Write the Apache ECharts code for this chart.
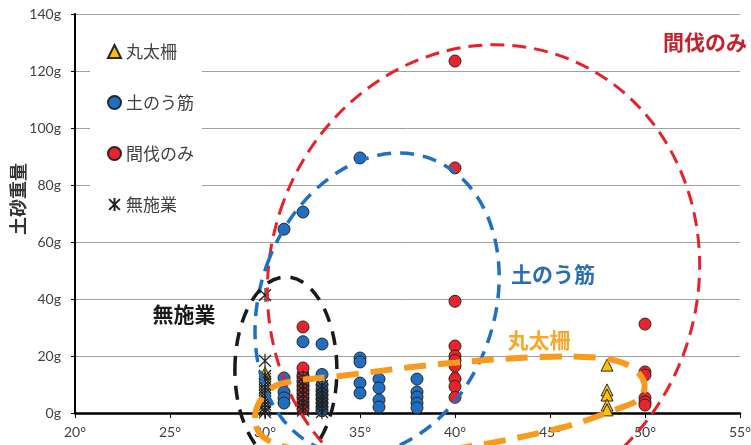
<!DOCTYPE html>
<html>
<head>
<meta charset="utf-8">
<script src="https://cdn.jsdelivr.net/npm/echarts@6/dist/echarts.min.js"></script>
<style>
html, body { margin: 0; padding: 0; background: #fff; }
#main { width: 751px; height: 445px; }
</style>
</head>
<body>
<div id="main"></div>
<script>
// 傾斜角(°), 土砂重量(g)
const maruta = [[30, 14], [40, 14], [48, 16.8], [48, 8.1], [48, 6.3], [48, 2.8], [48, 1.1]];
const donou = [[31, 64.5], [32, 70.5], [35, 89.5], [32, 25], [33, 24.2],
  [31, 12.3], [31, 7.4], [31, 5.3], [31, 3.5], [32, 13.3],
  [33, 13.5], [33, 9.8], [33, 8], [33, 6.5], [33, 5], [33, 3.5], [33, 2], [33, 0.8],
  [35, 19.3], [35, 17.9], [35, 10.5], [35, 7],
  [36, 11.9], [36, 8.8], [36, 4.6], [36, 2.1],
  [38, 11.9], [38, 7.4], [38, 5.6], [38, 3.5], [38, 1.8]];
const kanbatsu = [[40, 123.5], [40, 86], [40, 39.2], [40, 23.5], [40, 20], [40, 18.5], [40, 16.5],
  [40, 12], [40, 9.3], [40, 5.5],
  [50, 31.2], [50, 14.4], [50, 13.3], [50, 5.3], [50, 3.9], [50, 2.8],
  [32, 30.2], [32, 15.8], [32, 12.3], [32, 11], [32, 9.6], [32, 8.2], [32, 6.8], [32, 5.4],
  [32, 4], [32, 2.6], [32, 1.3]];
const museyou = [[30, 41.4], [30, 18.3], [30, 13], [30, 12], [30, 11], [30, 10], [30, 9], [30, 8],
  [30, 7], [30, 6], [30, 5], [30, 4], [30, 3], [30, 2], [30, 1], [30, 0.3],
  [32, 12.5], [32, 11], [32, 9.5], [32, 8], [32, 6.5], [32, 5], [32, 3.5], [32, 2], [32, 0.8],
  [33, 9.5], [33, 8.2], [33, 6.8], [33, 5.5], [33, 4.2], [33, 2.8], [33, 1.5], [33, 0.3]];

const names = ['丸太柵', '土のう筋', '間伐のみ', '無施業'];
const xRange = [20, 55, 5];
const yRange = [0, 140, 20];

// 囲み線 (中心はデータ座標、半径はpx)
const ellipses = [
  { c: [41.5, 47.4], rx: 214, ry: 235, rot: 18, color: '#E8202A', w: 3, dash: [14, 8] },
  { c: [35.9, 38.2], rx: 117, ry: 155, rot: 20, color: '#1F70C2', w: 3.5, dash: [14, 9] },
  { c: [31.1, 15.1], rx: 51, ry: 93, rot: 0, color: '#1A1A1A', w: 3.5, dash: [14, 10] }
];
const marutaLoop = [[29.47, -1.75], [29.84, 5.26], [30.79, 10.18], [33.95, 12.98], [39.21, 17.19],
  [44.47, 19.65], [47.63, 19.3], [49.21, 16.49], [49.95, 10.88], [49.74, 5.26], [48.68, 1.75],
  [45.53, -5.26], [40.26, -12.28], [35.53, -15.44], [31.32, -12.28], [29.84, -8.07]];
const labels = [
  { t: '無施業', p: [25.74, 34.7], color: '#1A1A1A', align: 'center' },
  { t: '土のう筋', p: [45.16, 48.8], color: '#2B6DB5', align: 'center' },
  { t: '丸太柵', p: [44.42, 25.6], color: '#F4A92A', align: 'center' },
  { t: '間伐のみ', p: [50.95, 130.2], color: '#C8202A', align: 'left' }
];

const asterisk = 'path://M0,1L10,11M10,1L0,11M5,0L5,12';
const font = '"Noto Sans CJK JP", sans-serif';

let myChart = echarts.init(document.getElementById('main'));
let option = {
  animation: false,
  grid: { left: 75, right: 11, top: 14, bottom: 32, containLabel: false, outerBoundsMode: 'none' },
  legend: {
    orient: 'vertical',
    left: 90,
    top: 25,
    padding: [18, 8, 18, 17],
    backgroundColor: '#fff',
    itemWidth: 13,
    itemHeight: 13,
    itemGap: 34,
    textStyle: { fontSize: 17, color: '#404040', fontFamily: font },
    data: names
  },
  xAxis: {
    type: 'value',
    min: xRange[0], max: xRange[1], interval: xRange[2],
    axisLine: { lineStyle: { color: '#000', width: 2.5 } },
    axisTick: { show: true, length: 5, lineStyle: { color: '#000' } },
    axisLabel: { formatter: '{value}°', color: '#404040', fontSize: 14, fontFamily: 'Lato', margin: 12 },
    splitLine: { show: false }
  },
  yAxis: {
    type: 'value',
    min: yRange[0], max: yRange[1], interval: yRange[2],
    axisLine: { show: true, lineStyle: { color: '#000', width: 2 } },
    axisTick: { show: true, length: 4, lineStyle: { color: '#000' } },
    axisLabel: { formatter: '{value}g', color: '#404040', fontSize: 14, fontFamily: 'Lato', margin: 14 },
    splitLine: { lineStyle: { color: '#A0A0A0', width: 1 } }
  },
  series: [
    {
      name: names[0], type: 'scatter', symbol: 'triangle', symbolSize: 12,
      itemStyle: { color: '#FFC000', borderColor: '#262626', borderWidth: 1, opacity: 1 },
      data: maruta
    },
    {
      name: names[1], type: 'scatter', symbol: 'circle', symbolSize: 12,
      itemStyle: { color: '#1F6EC1', borderColor: '#262626', borderWidth: 1, opacity: 1 },
      data: donou
    },
    {
      name: names[2], type: 'scatter', symbol: 'circle', symbolSize: 12,
      itemStyle: { color: '#E8232B', borderColor: '#262626', borderWidth: 1, opacity: 1 },
      data: kanbatsu
    },
    {
      name: names[3], type: 'scatter', symbol: asterisk, symbolSize: [12, 14],
      itemStyle: { color: 'rgba(0,0,0,0)', borderColor: '#222', borderWidth: 1.3, opacity: 1 },
      data: museyou
    }
  ]
};
myChart.setOption(option);

// 注記は軸の座標に合わせて後から描く
function px(p) {
  return myChart.convertToPixel({ gridIndex: 0 }, p);
}
let graphics = [];
ellipses.forEach(function (e) {
  let c = px(e.c);
  graphics.push({
    type: 'ellipse', x: c[0], y: c[1], rotation: -e.rot * Math.PI / 180,
    shape: { cx: 0, cy: 0, rx: e.rx, ry: e.ry },
    style: { fill: 'none', stroke: e.color, lineWidth: e.w, lineDash: e.dash },
    silent: true, z: 100
  });
});
graphics.push({
  type: 'polygon',
  shape: { points: marutaLoop.map(px), smooth: 0.35 },
  style: { fill: 'none', stroke: '#F79A1E', lineWidth: 6, lineDash: [22, 12] },
  silent: true, z: 100
});
labels.forEach(function (l) {
  let p = px(l.p);
  graphics.push({
    type: 'text', x: p[0], y: p[1],
    style: {
      text: l.t, fill: l.color, fontSize: 21, fontWeight: 'bold', fontFamily: font,
      align: l.align, verticalAlign: 'middle'
    },
    silent: true, z: 101
  });
});
// 縦軸タイトル
graphics.push({
  type: 'text', x: 18, y: 199, rotation: Math.PI / 2,
  style: {
    text: '土砂重量', fill: '#333', fontSize: 18, fontWeight: 'bold', fontFamily: font,
    align: 'center', verticalAlign: 'middle'
  },
  silent: true, z: 101
});
myChart.setOption({ graphic: graphics });
</script>
</body>
</html>
